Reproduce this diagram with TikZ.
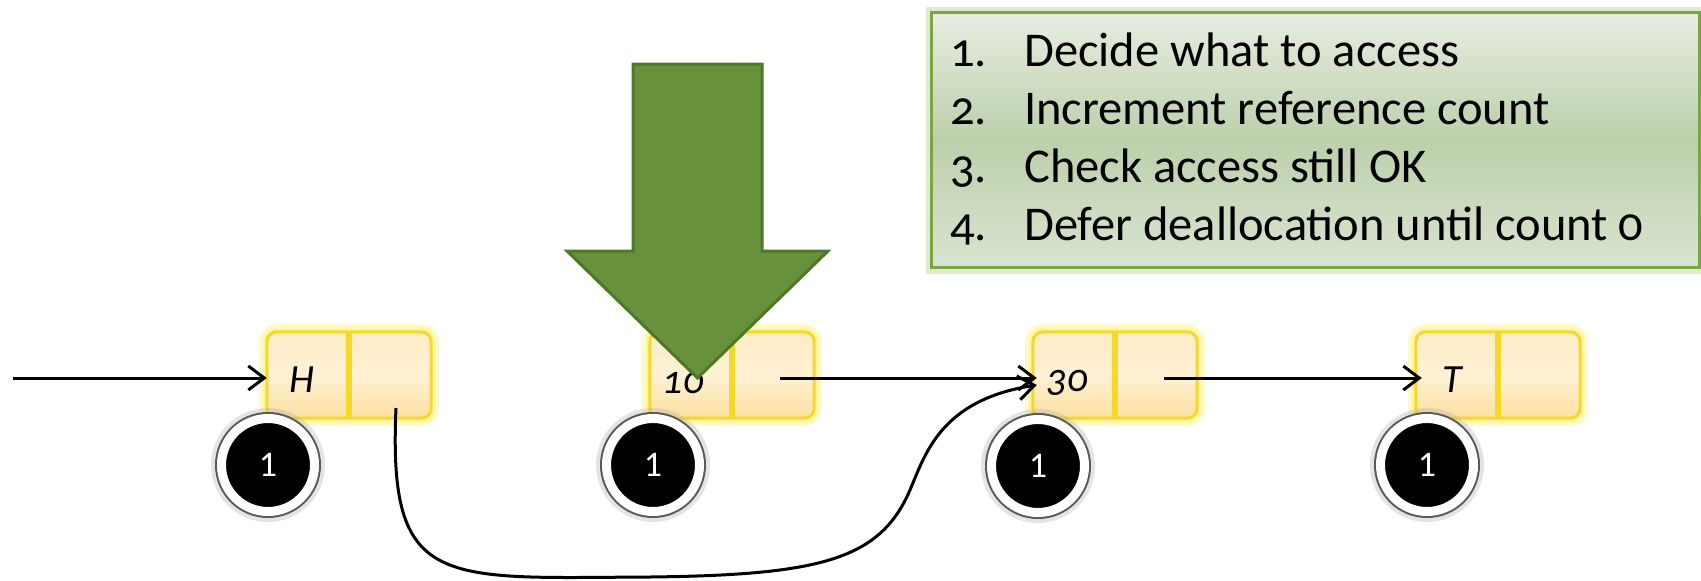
\documentclass[tikz,border=0pt]{standalone}
\usepackage{fontspec}
\setmainfont{Carlito}
\newfontfamily\oldfont{Carlito}[Numbers=OldStyle]
\usetikzlibrary{arrows.meta,calc}

\definecolor{cellfill}{HTML}{FCE0A0}
\definecolor{celltop}{HTML}{FDEBC4}
\definecolor{cellmid}{HTML}{FEF1D4}
\definecolor{cellborder}{HTML}{F6D82A}
\definecolor{cellglow}{HTML}{FFF38C}
\definecolor{arrowgreen}{HTML}{67913A}
\definecolor{arrowedge}{HTML}{4E7828}
\definecolor{boxedge}{HTML}{7AA545}
\definecolor{boxglow}{HTML}{C8DDB2}
\definecolor{boxtop}{HTML}{E7EDE1}
\definecolor{boxmid}{HTML}{BCD0AB}
\definecolor{boxbot}{HTML}{D9E4D0}

\tikzset{
  cell/.style={rectangle, minimum width=82pt, minimum height=86pt, inner sep=0pt},
  cellbox/.style={rounded corners=10pt, draw=cellborder, line width=3pt,
    top color=celltop, bottom color=cellfill, middle color=cellmid,
    preaction={draw=cellglow, line width=16pt, opacity=0.45},
    preaction={draw=cellglow, line width=9pt, opacity=0.6}},
  divider/.style={draw=cellborder, line width=6pt},
  celltext/.style={font=\oldfont\itshape\fontsize{40}{48}\selectfont, inner sep=0pt},
  count/.style={circle, fill=black, minimum size=93pt, inner sep=0pt,
    draw=white, line width=9pt, text=white,
    font=\fontsize{36}{42}\selectfont,
    preaction={draw=black!30, line width=21pt, opacity=0.35},
    preaction={draw=black!65, line width=13pt}},
  arr/.style={line width=3pt, -{Straight Barb[length=16pt,width=24pt]}},
  listnum/.style={anchor=base west, inner sep=0pt,
    font=\oldfont\fontsize{48.5}{58}\selectfont},
  listtext/.style={anchor=base west, inner sep=0pt,
    font=\oldfont\fontsize{48.5}{58}\selectfont},
  stepsbox/.style={rectangle, draw=boxedge, line width=3pt,
    top color=boxtop, bottom color=boxbot, middle color=boxmid,
    preaction={draw=boxglow, line width=12pt, opacity=0.6}},
}

\begin{document}
\begin{tikzpicture}[x=1pt,y=-1pt]
\useasboundingbox (0,0) rectangle (1701,581);

% steps box
\node[stepsbox, anchor=north west, minimum width=768pt, minimum height=255pt, inner sep=0pt] (steps) at (930,11) {};
\node[listnum] (n1) at (950,66) {1.};
\node[listtext] (t1) at (1024,66) {Decide what to access};
\node[listnum] (n2) at (950,124) {2.};
\node[listtext] (t2) at (1024,124) {Increment reference count};
\node[listnum] (n3) at (950,182) {3.};
\node[listtext] (t3) at (1024,182) {Check access still OK};
\node[listnum] (n4) at (950,240) {4.};
\node[listtext] (t4) at (1024,240) {Defer deallocation until count 0};

% list cells
\node[cell] (hL) at (308,375) {};
\node[cell] (hR) at (390,375) {};
\node[cell] (aL) at (691,375) {};
\node[cell] (aR) at (773,375) {};
\node[cell] (bL) at (1074,375) {};
\node[cell] (bR) at (1156,375) {};
\node[cell] (tL) at (1457,375) {};
\node[cell] (tR) at (1539,375) {};

\foreach \l/\r in {hL/hR, aL/aR, bL/bR, tL/tR}{
  \draw[cellbox] (\l.north west) rectangle (\r.south east);
  \draw[divider] (\l.north east) -- (\l.south east);
}

\node[celltext] (hT) at (302,380) {H};
\node[celltext] (aT) at (683,383) {10};
\node[celltext] (bT) at (1067,383) {30};
\node[celltext] (tT) at (1452,380) {T};

% reference counts
\node[count] (c1) at (268,465) {1};
\node[count] (c2) at (653,465) {1};
\node[count] (c3) at (1038,466) {1};
\node[count] (c4) at (1427,465) {1};

% connectors
\coordinate (head) at (13,378);
\draw[arr] (head) -- ([yshift=-3pt]hL.west);
\draw[arr] ([xshift=7pt,yshift=-3pt]aR.center) -- ([xshift=4pt,yshift=-3pt]bL.west);
\draw[arr] ([xshift=8pt,yshift=-3pt]bR.center) -- ([xshift=6pt,yshift=-3pt]tL.west);
\draw[arr] ([xshift=6pt,yshift=-33pt]hR.center)
  .. controls (388,590) and (440,578) .. (650,577)
  .. controls (820,575) and (880,560) .. (910,490)
  .. controls (925,455) and (940,400) .. ([xshift=4pt,yshift=-10pt]bL.west);

% big green arrow
\draw[fill=arrowgreen, draw=arrowedge, line width=3pt, line join=miter]
  (633,64) -- (762,64) -- (762,251) -- (828,251) -- (697.5,378)
  -- (567,251) -- (633,251) -- cycle;
\end{tikzpicture}
\end{document}
